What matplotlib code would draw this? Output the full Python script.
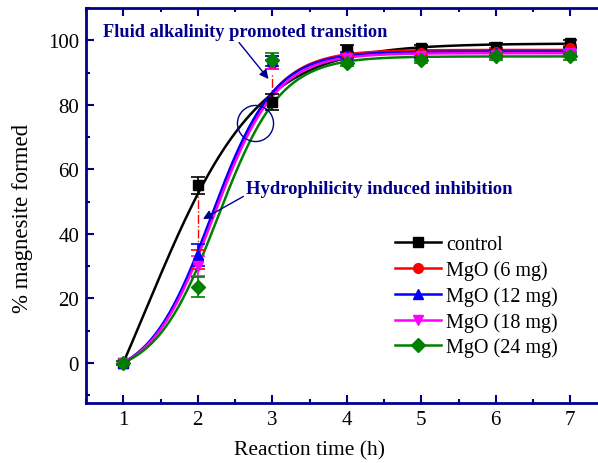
import numpy as np
import matplotlib.pyplot as plt
from matplotlib.lines import Line2D
from matplotlib.ticker import MultipleLocator

# reaction time (h)
time_h = [1, 2, 3, 4, 5, 6, 7]

# % magnesite formed
control = [0, 55, 81, 97, 97.5, 98, 99]
mgo_6 = [0, 32, 93, 95, 96, 96.5, 97.5]
mgo_12 = [0, 33.5, 93.5, 95.5, 95.5, 96, 96.5]
mgo_18 = [0, 30, 92.5, 94.5, 95, 95.5, 96]
mgo_24 = [0, 23.5, 94, 93, 94, 95, 95]

control_err = [0.5, 2.5, 2.5, 1.5, 1, 1, 1]
mgo_6_err = [0.5, 3, 2, 1, 1, 1, 1]
mgo_12_err = [0.5, 3.5, 1.5, 1, 1, 1, 1]
mgo_18_err = [0.5, 3, 1.5, 1, 1, 1, 1]
mgo_24_err = [0.5, 3, 2, 1, 1, 1, 1]

# Boltzmann fit curves (A1, A2, x0, dx)
fit_A1 = [-66.3, -5.5, -5.8, -5.4, -4.6]
fit_A2 = [99, 97, 96.5, 96, 95]
fit_x0 = [1.3, 2.2, 2.18, 2.21, 2.27]
fit_dx = [0.75, 0.42, 0.42, 0.42, 0.42]

labels = ['control', 'MgO (6 mg)', 'MgO (12 mg)', 'MgO (18 mg)', 'MgO (24 mg)']
colors = ['black', '#ff0000', '#0000ff', '#ff00ff', '#008000']
markers = ['s', 'o', '^', 'v', 'D']

navy = '#00008b'


def boltzmann(t, a1, a2, x0, dx):
    return a2 + (a1 - a2) / (1.0 + np.exp((t - x0) / dx))


plt.rcParams['font.family'] = ['Liberation Serif', 'DejaVu Serif']

fig = plt.figure(figsize=(5.98, 4.64), dpi=100)
ax = fig.add_axes([86 / 598, 60 / 464, 521.5 / 598, 395 / 464])

series = [control, mgo_6, mgo_12, mgo_18, mgo_24]
errors = [control_err, mgo_6_err, mgo_12_err, mgo_18_err, mgo_24_err]
tt = np.linspace(1, 7, 300)

for i, (y, e, c, m) in enumerate(zip(series, errors, colors, markers)):
    ax.plot(tt, boltzmann(tt, fit_A1[i], fit_A2[i], fit_x0[i], fit_dx[i]),
            color=c, lw=1.8, zorder=2)
    ax.errorbar(time_h, y, yerr=e, fmt=m, color=c, ms=7, capsize=5,
                elinewidth=1.2, capthick=1.2, zorder=3)

# red dash-dot guides between control and MgO points
ax.plot([2, 2], [control[1], mgo_12[1]], color='red', ls='-.', lw=1, zorder=1)
ax.plot([3, 3], [control[2], 90], color='red', ls='-.', lw=1, zorder=1)

# crossover circle
ax.plot([2.77], [74.3], marker='o', ms=26, mfc='none', mec=navy, mew=1, zorder=4)

ax.annotate('Fluid alkalinity promoted transition', xy=(2.95, 88), xytext=(0.73, 102.8),
            fontsize=13.2, fontweight='bold', color=navy, va='center',
            arrowprops=dict(arrowstyle='-|>', color=navy, lw=1,
                            shrinkA=0, shrinkB=0, relpos=(0.47, 0)))
ax.annotate('Hydrophilicity induced inhibition', xy=(2.07, 44.6), xytext=(2.65, 54.2),
            fontsize=13.4, fontweight='bold', color=navy, va='center',
            arrowprops=dict(arrowstyle='-|>', color=navy, lw=1,
                            shrinkA=0, shrinkB=0, relpos=(0, 0.1)))

ax.set_xlim(0.5, 7.5)
ax.set_ylim(-12.4, 110)
ax.set_xticks(time_h)
ax.set_yticks([0, 20, 40, 60, 80, 100])
ax.xaxis.set_minor_locator(MultipleLocator(0.5))
ax.yaxis.set_minor_locator(MultipleLocator(10))
ax.tick_params(which='both', direction='in', top=True, right=True, color=navy,
               labelsize=15, width=1.5)
ax.tick_params(which='major', length=6, pad=5)
ax.tick_params(which='minor', length=3)
for s in ax.spines.values():
    s.set_color(navy)
    s.set_linewidth(2)

ax.set_xlabel('Reaction time (h)', fontsize=15.5)
ax.xaxis.set_label_coords((310 - 86) / 521.5, -0.095)
ax.set_ylabel('% magnesite formed', fontsize=16.5)
ax.yaxis.set_label_coords((33 - 86) / 521.5, 0.47)

handles = [Line2D([], [], color=c, marker=m, ms=7, lw=1.8) for c, m in zip(colors, markers)]
ax.legend(handles, labels, loc='upper left', bbox_to_anchor=(0.5925, 0.425), frameon=False,
          fontsize=14.5, handlelength=2.3, handletextpad=0.25, labelspacing=0.3,
          borderpad=0, borderaxespad=0)

fig.savefig('out.png', dpi=100)
